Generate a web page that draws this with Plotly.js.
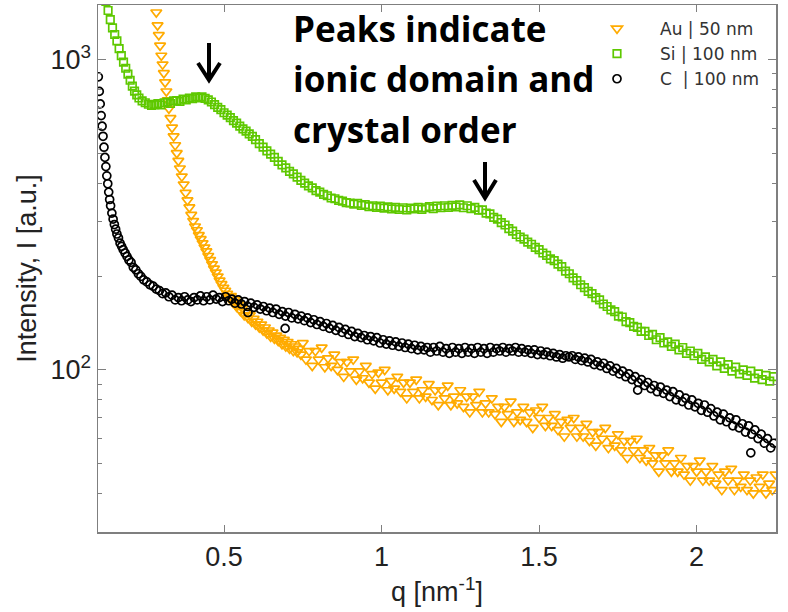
<!DOCTYPE html>
<html>
<head>
<meta charset="utf-8">
<script src="https://cdn.plot.ly/plotly-3.0.1.min.js"></script>
<style>
  html, body { margin: 0; padding: 0; background: #fff; }
  #chart { width: 788px; height: 612px; }
</style>
</head>
<body>
<div id="chart"></div>
<script>
// SAXS intensity profiles: [q (nm^-1), I (a.u.)]
const auData = [
  [0.285,1420],[0.289,1290],[0.293,1200],[0.297,1110],[0.301,1030],[0.305,965],[0.309,905],[0.313,845],
  [0.317,790],[0.321,740],[0.325,695],[0.330,648],[0.335,604],[0.340,566],[0.345,530],[0.350,500],
  [0.355,472],[0.360,446],[0.366,420],[0.372,396],[0.378,372],[0.384,352],[0.390,334],[0.396,316],
  [0.402,302],[0.408,290],[0.414,282],[0.420,272],[0.426,264],[0.432,256],[0.438,248],[0.444,241],
  [0.450,233],[0.456,226],[0.462,219],[0.468,212],[0.474,206],[0.480,200],[0.486,194],[0.492,189],
  [0.498,184],[0.504,180],[0.510,176],[0.516,171],[0.522,173],[0.528,165],[0.534,168],[0.540,160],
  [0.546,163],[0.552,155],[0.558,158],[0.564,150],[0.570,154],[0.576,147],[0.582,150],[0.588,143],
  [0.594,146],[0.600,140],[0.606,143],[0.612,137],[0.618,140],[0.624,134],[0.630,137],[0.636,131],
  [0.642,134],[0.648,128],[0.654,132],[0.660,126],[0.666,129],[0.672,124],[0.678,127],[0.684,121],
  [0.690,125],[0.696,119],[0.702,123],[0.708,117],[0.714,121],[0.720,115],[0.726,119],[0.732,114],
  [0.738,117],[0.744,112],
  [0.75,122],[0.76,108],[0.77,115],[0.78,103],[0.79,115],[0.80,108],[0.81,118],[0.82,102],[0.83,109],[0.84,103],
  [0.85,112],[0.86,100],[0.87,106],[0.88,95],[0.89,106],[0.90,99],[0.91,108],[0.92,93],[0.93,99],[0.94,94],
  [0.95,103],[0.96,91],[0.97,97],[0.98,87],[0.99,98],[1.00,91],[1.01,100],[1.02,86],[1.03,92],[1.04,87],
  [1.05,95],[1.06,85],[1.07,91],[1.08,81],[1.09,91],[1.10,85],[1.11,93],[1.12,81],[1.13,86],[1.14,82],
  [1.15,90],[1.16,80],[1.17,86],[1.18,77],[1.19,86],[1.20,81],[1.21,89],[1.22,77],[1.23,82],[1.24,78],
  [1.25,86],[1.26,76],[1.27,82],[1.28,73],[1.29,82],[1.30,77],[1.31,85],[1.32,73],[1.33,78],[1.34,73],
  [1.35,81],[1.36,72],[1.37,76],[1.38,68],[1.39,76],[1.40,72],[1.41,79],[1.42,68],[1.43,73],[1.44,69],
  [1.45,76],[1.46,68],[1.47,73],[1.48,65],[1.49,74],[1.50,70],[1.51,76],[1.52,66],[1.53,70],[1.54,66],
  [1.55,72],[1.56,64],[1.57,68],[1.58,61],[1.59,69],[1.60,65],[1.61,70],[1.62,61],[1.63,65],[1.64,61],
  [1.65,67],[1.66,59],[1.67,63],[1.68,57],[1.69,63],[1.70,60],[1.71,65],[1.72,56],[1.73,60],[1.74,57],
  [1.75,62],[1.76,55],[1.77,59],[1.78,52],[1.79,59],[1.80,55],[1.81,60],[1.82,52],[1.83,55],[1.84,51],
  [1.85,56],[1.86,50],[1.87,53],[1.88,47],[1.89,53],[1.90,50],[1.91,55],[1.92,47],[1.93,50],[1.94,47],
  [1.95,52],[1.96,46],[1.97,49],[1.98,44],[1.99,49],[2.00,47],[2.01,51],[2.02,44],[2.03,47],[2.04,44],
  [2.05,49],[2.06,43],[2.07,46],[2.08,41],[2.09,47],[2.10,44],[2.11,48],[2.12,41],[2.13,44],[2.14,42],
  [2.15,46],[2.16,41],[2.17,44],[2.18,40],[2.19,45],[2.20,42],[2.21,46],[2.22,40],[2.23,43],[2.24,41],
  [2.25,46]
];

const siData = [
  [0.125,1540],[0.132,1440],[0.139,1345],[0.146,1265],[0.153,1205],[0.160,1150],[0.167,1085],[0.174,1030],
  [0.181,982],[0.188,938],[0.195,898],[0.202,858],[0.209,822],[0.216,792],[0.223,770],[0.230,752],
  [0.240,736],[0.250,726],[0.260,718],[0.270,712],[0.280,716],[0.290,722],[0.300,714],[0.310,726],
  [0.320,730],[0.330,722],[0.340,736],[0.350,738],[0.360,734],[0.370,746],[0.380,742],[0.390,752],
  [0.400,748],[0.410,758],[0.420,752],[0.430,758],[0.440,750],[0.450,742],[0.460,730],[0.470,716],
  [0.480,702],[0.490,690],[0.500,674],[0.510,662],[0.520,650],[0.530,636],[0.540,624],[0.550,610],
  [0.560,598],[0.570,588],[0.580,576],[0.590,566],[0.600,552],[0.612,536],[0.624,522],[0.636,508],
  [0.648,496],[0.660,484],[0.672,470],[0.684,458],[0.696,448],[0.708,436],[0.720,428],[0.732,418],
  [0.744,408],[0.756,400],[0.768,392],[0.780,386],[0.792,378],[0.804,374],[0.816,368],[0.828,364],
  [0.840,358],[0.852,356],[0.864,352],[0.876,350],[0.888,346],[0.900,345],[0.912,342],[0.924,344],
  [0.936,339],[0.948,341],[0.960,336],[0.972,338],[0.984,334],[0.996,337],[1.008,332],[1.020,335],
  [1.032,330],[1.044,334],[1.056,329],[1.068,333],[1.080,328],[1.092,332],[1.104,330],[1.116,334],
  [1.128,329],[1.140,333],[1.152,336],[1.164,331],[1.176,337],[1.188,333],[1.200,338],[1.212,334],
  [1.224,339],[1.236,335],[1.248,340],[1.260,333],[1.272,338],[1.284,331],[1.296,334],[1.308,327],
  [1.320,328],[1.332,320],[1.344,318],[1.356,310],[1.368,306],[1.380,298],[1.392,293],[1.404,285],
  [1.416,280],[1.428,273],[1.440,268],[1.452,264],[1.464,258],[1.476,254],[1.488,248],[1.500,244],
  [1.512,238],[1.524,234],[1.536,228],[1.548,225],[1.560,219],[1.572,215],[1.584,208],[1.596,204],
  [1.608,198],[1.620,194],[1.632,188],[1.644,184],[1.656,179],[1.668,176],[1.680,171],[1.692,168],
  [1.704,163],[1.716,160],[1.728,156],[1.740,154],[1.752,149],[1.764,148],[1.776,143],[1.788,142],
  [1.800,138],[1.812,137],[1.824,133],[1.836,133],[1.848,129],[1.860,130],[1.872,125],[1.884,127],
  [1.896,122],[1.908,123],[1.920,119],[1.932,121],[1.944,116],[1.956,118],[1.968,113],[1.980,115],
  [1.992,111],[2.004,113],[2.016,108],[2.028,110],[2.040,106],[2.052,108],[2.064,103],[2.076,106],
  [2.088,101],[2.100,104],[2.112,99],[2.124,102],[2.136,97],[2.148,100],[2.160,96],[2.172,99],
  [2.184,94],[2.196,97],[2.208,93],[2.220,96],[2.232,92],[2.244,95]
];

const cData = [
  [0.101,880],[0.104,790],[0.107,720],[0.110,660],[0.113,610],[0.116,566],[0.119,522],[0.122,484],
  [0.125,452],[0.128,422],[0.131,398],[0.134,374],[0.137,354],[0.140,338],[0.144,320],[0.148,306],
  [0.152,294],[0.156,284],[0.160,274],[0.165,266],[0.170,256],[0.175,250],[0.180,244],[0.186,238],
  [0.192,232],[0.198,226],[0.205,222],[0.212,214],[0.220,210],[0.228,204],[0.236,200],[0.245,195],
  [0.255,192],[0.265,188],[0.275,186],[0.285,182],[0.295,180],[0.305,176],[0.315,177],[0.325,172],
  [0.335,174],[0.345,168],[0.355,171],[0.365,167],[0.375,172],[0.385,168],[0.395,166],[0.405,171],
  [0.415,168],[0.425,173],[0.435,167],[0.445,172],[0.455,168],[0.465,174],[0.475,169],[0.485,171],
  [0.495,166],[0.505,172],[0.515,167],[0.525,169],[0.535,164],[0.545,168],[0.555,163],[0.565,166],
  [0.575,160],[0.576,153],[0.585,164],[0.595,159],[0.605,162],[0.615,157],[0.625,160],[0.635,155],
  [0.645,158],[0.655,153],[0.665,157],[0.675,151],[0.685,154],[0.694,136],[0.695,149],[0.705,153],
  [0.715,147],[0.725,151],[0.735,146],[0.745,149],[0.755,144],[0.765,147],[0.775,142],[0.785,145],
  [0.795,140],[0.805,143],[0.815,138],[0.825,141],[0.835,136],[0.845,139],[0.855,134],[0.865,137],
  [0.875,132],[0.885,135],[0.895,130],[0.905,133],[0.915,128],[0.925,131],[0.935,127],[0.945,129],
  [0.955,125],[0.965,128],[0.975,124],[0.985,127],[0.995,122],[1.005,125],[1.015,121],[1.025,124],
  [1.035,120],[1.045,123],[1.055,119],[1.065,122],[1.075,118],[1.085,121],[1.095,117],[1.105,120],
  [1.115,116],[1.125,119],[1.135,116],[1.145,118],[1.155,114],[1.165,118],[1.175,115],[1.185,119],
  [1.195,114],[1.205,117],[1.215,113],[1.225,118],[1.235,114],[1.245,117],[1.255,113],[1.265,118],
  [1.275,114],[1.285,117],[1.295,113],[1.305,118],[1.315,114],[1.325,117],[1.335,113],[1.345,118],
  [1.355,114],[1.365,117],[1.375,115],[1.385,118],[1.395,114],[1.405,117],[1.415,115],[1.425,118],
  [1.435,114],[1.445,117],[1.455,114],[1.465,116],[1.475,113],[1.485,116],[1.495,112],[1.505,115],
  [1.515,112],[1.525,114],[1.535,111],[1.545,113],[1.555,110],[1.565,112],[1.575,109],[1.585,111],
  [1.595,110],[1.605,111],[1.615,108],[1.625,110],[1.635,107],[1.645,109],[1.655,106],[1.665,108],
  [1.675,104],[1.685,106],[1.695,103],[1.705,105],[1.715,101],[1.725,103],[1.735,99],[1.745,101],
  [1.755,97],[1.765,99],[1.775,95],[1.785,97],[1.795,93],[1.805,95],[1.813,86],[1.815,91],[1.825,93],
  [1.835,89],[1.845,91],[1.855,87],[1.865,89],[1.875,85],[1.885,88],[1.895,84],[1.905,86],[1.915,82],
  [1.925,85],[1.935,80],[1.945,83],[1.955,79],[1.965,81],[1.975,77],[1.985,80],[1.995,76],[2.005,78],
  [2.015,74],[2.025,77],[2.035,73],[2.045,75],[2.055,71],[2.065,73],[2.075,69],[2.085,72],[2.095,68],
  [2.105,70],[2.115,66],[2.125,69],[2.135,65],[2.145,67],[2.155,63],[2.165,66],[2.172,54],[2.175,62],
  [2.185,64],[2.195,60],[2.205,62],[2.215,58],[2.225,60],[2.235,56],[2.245,58]
];

const seriesNames = ['Au | 50 nm', 'Si | 100 nm', 'C\u00a0\u00a0| 100 nm'];
const xTickVals = [0.5, 1, 1.5, 2];
const xTickText = ['0.5', '1', '1.5', '2'];
const yTickVals = [100, 1000];
const yTickText = ['10<sup>2</sup>', '10<sup>3</sup>'];
const yMinorVals = [30, 40, 50, 60, 70, 80, 90, 200, 300, 400, 500, 600, 700, 800, 900];
const noteLines = ['Peaks indicate', 'ionic domain and', 'crystal order'];

const FONT = 'Arial, "Liberation Sans", sans-serif';
const AXIS_GRAY = '#7f7f7f';

function trace(data, name, symbol, color, size) {
  return {
    type: 'scatter', mode: 'markers', name: name,
    x: data.map(d => d[0]), y: data.map(d => d[1]),
    marker: { symbol: symbol, size: size, color: color, line: { color: color, width: 1.7 } }
  };
}

const traces = [
  trace(auData, seriesNames[0], 'triangle-down-open', '#ffab00', 9.5),
  trace(siData, seriesNames[1], 'square-open', '#5ec800', 7.5),
  trace(cData, seriesNames[2], 'circle-open', '#000000', 8)
];

// plot area in pixels: x 98..776, y 5..532
const L = 98, R = 776, T = 5, B = 532;
const px = x => (x - L) / (R - L);
const py = y => (B - y) / (B - T);

function arrow(x, yTop, yTip, half, armTop) {
  return [
    { type: 'line', xref: 'paper', yref: 'paper', x0: px(x), x1: px(x), y0: py(yTop), y1: py(yTip - 2),
      line: { color: '#000', width: 4 } },
    { type: 'path', xref: 'paper', yref: 'paper',
      path: `M ${px(x - half)} ${py(armTop)} L ${px(x)} ${py(yTip)} L ${px(x + half)} ${py(armTop)}`,
      line: { color: '#000', width: 4 } }
  ];
}

const shapes = [].concat(arrow(209, 43, 80, 11, 63), arrow(485, 162, 198, 11, 180));

const annotations = noteLines.map((t, i) => ({
  xref: 'paper', yref: 'paper', x: px(291), y: py(29 + i * 50),
  xanchor: 'left', yanchor: 'middle', showarrow: false, text: '<b>' + t + '</b>',
  font: { family: '"Open Sans", Lato, sans-serif', size: 35, color: '#000' }
}));

const layout = {
  width: 788, height: 612,
  margin: { l: L, r: 788 - R, t: T, b: 612 - B },
  paper_bgcolor: '#fff', plot_bgcolor: '#fff',
  showlegend: true,
  legend: {
    x: px(574), y: py(11), xanchor: 'left', yanchor: 'top',
    bgcolor: 'rgba(0,0,0,0)', borderwidth: 0,
    font: { family: '"DejaVu Sans", sans-serif', size: 17, color: '#333' },
    itemwidth: 76, tracegroupgap: 0
  },
  xaxis: {
    range: [0.1, 2.252], tickmode: 'array', tickvals: xTickVals, ticktext: xTickText,
    ticks: 'inside', ticklen: 7, tickwidth: 1, tickcolor: AXIS_GRAY,
    showline: true, linecolor: AXIS_GRAY, linewidth: 1.5, mirror: 'ticks',
    showgrid: false, zeroline: false,
    tickfont: { family: FONT, size: 27, color: '#222' },
    title: { text: 'q [nm<sup>-1</sup>]', font: { family: FONT, size: 27, color: '#222' }, standoff: 11 }
  },
  yaxis: {
    type: 'log', range: [Math.log10(30), Math.log10(1500)],
    tickmode: 'array', tickvals: yTickVals, ticktext: yTickText,
    ticks: 'inside', ticklen: 8, tickwidth: 1, tickcolor: AXIS_GRAY,
    minor: { tickmode: 'array', tickvals: yMinorVals, ticks: 'inside', ticklen: 4, tickcolor: AXIS_GRAY, showgrid: false },
    showline: true, linecolor: AXIS_GRAY, linewidth: 1.5, mirror: 'ticks',
    showgrid: false, zeroline: false,
    tickfont: { family: FONT, size: 27, color: '#222' },
    title: { text: 'Intensity, I [a.u.]', font: { family: FONT, size: 27, color: '#222' }, standoff: 6 }
  },
  shapes: shapes,
  annotations: annotations
};

Plotly.newPlot('chart', traces, layout, { displayModeBar: false, staticPlot: true });
</script>
</body>
</html>
